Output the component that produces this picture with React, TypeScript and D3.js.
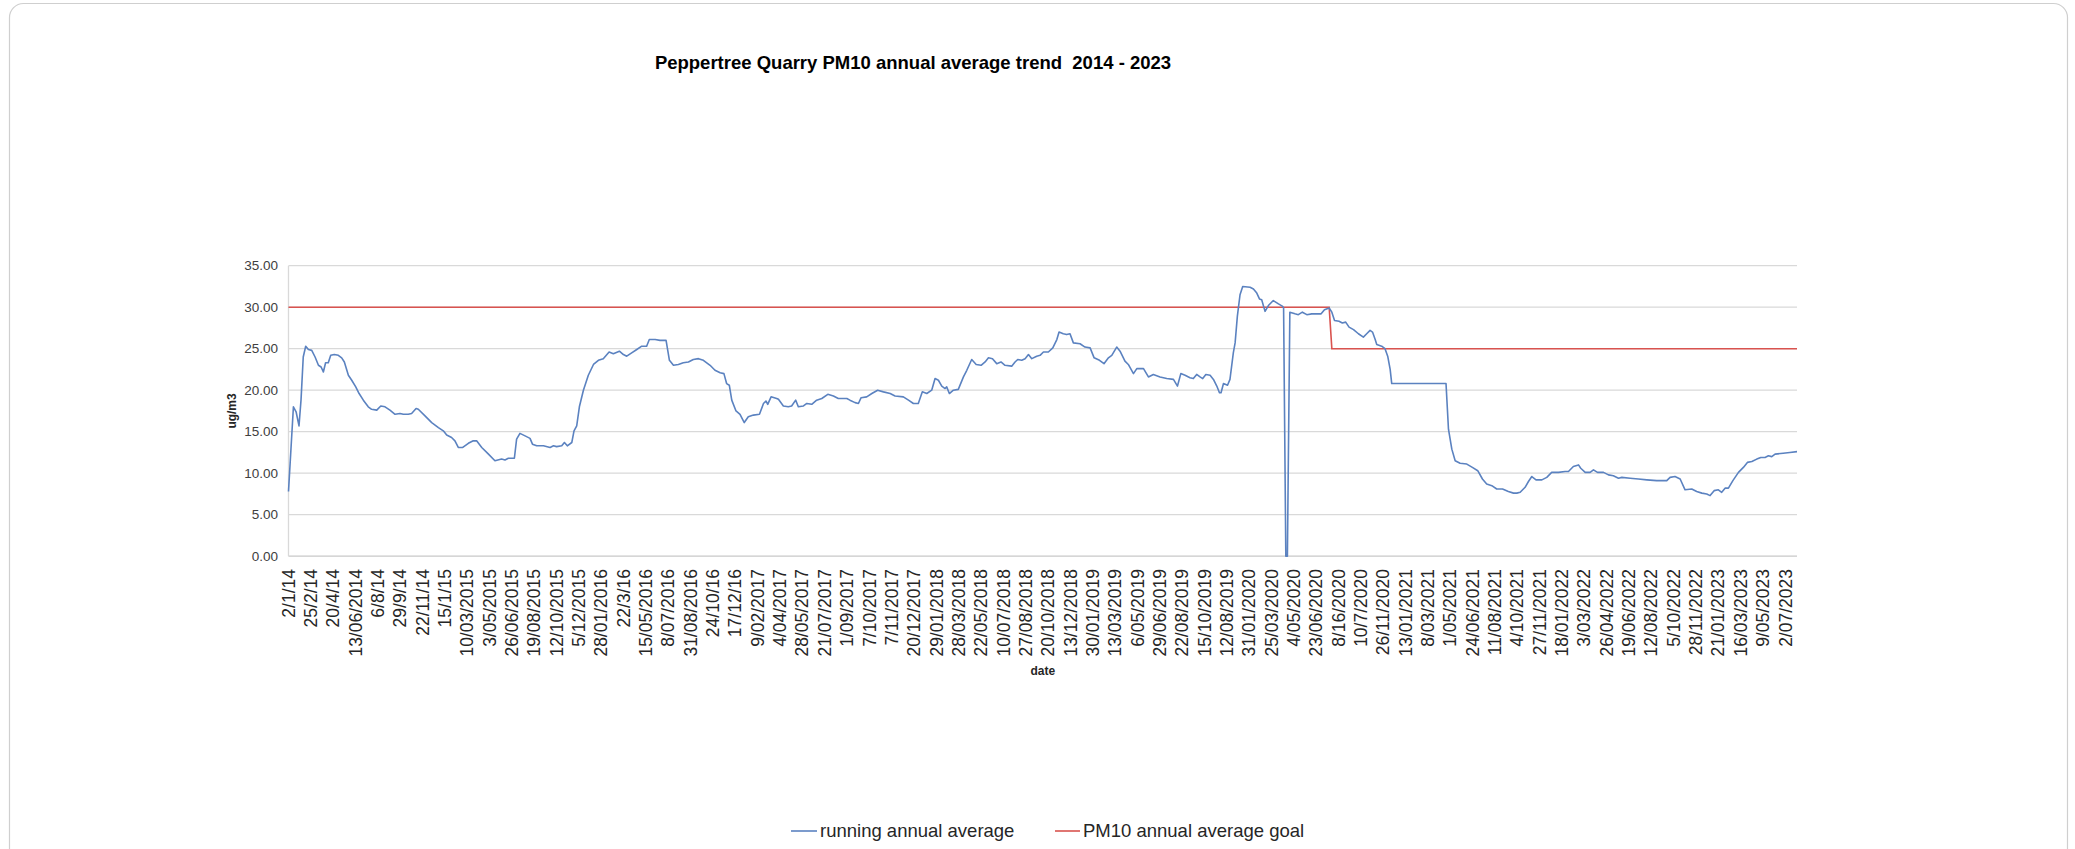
import React from "react";
import * as d3 from "d3";

const title = "Peppertree Quarry PM10 annual average trend  2014 - 2023";
const yAxisTitle = "ug/m3";
const xAxisTitle = "date";
const seriesNames = ["running annual average", "PM10 annual average goal"];
const seriesColors = ["#5b82c0", "#d9534f"];

const dateLabels = [
  "2/1/14", "25/2/14", "20/4/14", "13/06/2014", "6/8/14", "29/9/14", "22/11/14", "15/1/15",
  "10/03/2015", "3/05/2015", "26/06/2015", "19/08/2015", "12/10/2015", "5/12/2015", "28/01/2016",
  "22/3/16", "15/05/2016", "8/07/2016", "31/08/2016", "24/10/16", "17/12/16", "9/02/2017",
  "4/04/2017", "28/05/2017", "21/07/2017", "1/09/2017", "7/10/2017", "7/11/2017", "20/12/2017",
  "29/01/2018", "28/03/2018", "22/05/2018", "10/07/2018", "27/08/2018", "20/10/2018", "13/12/2018",
  "30/01/2019", "13/03/2019", "6/05/2019", "29/06/2019", "22/08/2019", "15/10/2019", "12/08/2019",
  "31/01/2020", "25/03/2020", "4/05/2020", "23/06/2020", "8/16/2020", "10/7/2020", "26/11/2020",
  "13/01/2021", "8/03/2021", "1/05/2021", "24/06/2021", "11/08/2021", "4/10/2021", "27/11/2021",
  "18/01/2022", "3/03/2022", "26/04/2022", "19/06/2022", "12/08/2022", "5/10/2022", "28/11/2022",
  "21/01/2023", "16/03/2023", "9/05/2023", "2/07/2023",
];

// position along the category axis (in label steps), value in ug/m3
const runningAverage: [number, number][] = [
  [0, 7.8], [0.22, 18.0], [0.34, 17.4], [0.47, 15.7], [0.56, 18.8], [0.66, 24.0], [0.77, 25.3], [0.89, 24.9],
  [1.04, 24.8], [1.19, 24.0], [1.34, 23.0], [1.46, 22.8], [1.56, 22.2], [1.66, 23.3], [1.78, 23.3], [1.89, 24.2],
  [2.05, 24.3], [2.23, 24.2], [2.38, 23.9], [2.5, 23.4], [2.68, 21.8], [2.83, 21.2], [3.01, 20.4], [3.16, 19.6],
  [3.35, 18.8], [3.57, 18.0], [3.72, 17.7], [3.95, 17.6], [4.13, 18.1], [4.32, 18.0], [4.54, 17.6], [4.77, 17.1],
  [4.99, 17.2], [5.14, 17.1], [5.36, 17.1], [5.51, 17.2], [5.71, 17.8], [5.81, 17.7], [6.11, 16.9], [6.41, 16.1],
  [6.71, 15.5], [6.93, 15.1], [7.08, 14.6], [7.3, 14.3], [7.45, 13.9], [7.6, 13.1], [7.8, 13.1], [8.05, 13.6],
  [8.27, 13.9], [8.42, 13.9], [8.65, 13.1], [8.95, 12.3], [9.24, 11.5], [9.54, 11.7], [9.69, 11.6], [9.84, 11.8],
  [10.11, 11.8], [10.21, 14.1], [10.36, 14.8], [10.59, 14.5], [10.81, 14.2], [10.92, 13.5],
  [11.11, 13.3], [11.41, 13.3], [11.71, 13.1], [11.86, 13.3], [12.0, 13.2], [12.23, 13.3], [12.35, 13.7],
  [12.48, 13.3], [12.68, 13.7], [12.78, 15.1], [12.9, 15.7], [13.02, 18.0], [13.2, 20.0], [13.42, 21.8],
  [13.65, 23.1], [13.87, 23.6], [14.09, 23.8], [14.35, 24.6], [14.54, 24.4], [14.81, 24.7], [14.99, 24.3],
  [15.14, 24.1], [15.36, 24.5], [15.59, 24.9], [15.81, 25.3], [16.03, 25.3], [16.15, 26.1], [16.41, 26.1],
  [16.63, 26.0], [16.9, 26.0], [17.05, 23.6], [17.23, 23.0], [17.45, 23.1], [17.67, 23.3], [17.9, 23.4],
  [18.12, 23.7], [18.35, 23.8], [18.57, 23.6], [18.87, 23.0], [19.09, 22.4], [19.32, 22.1], [19.49, 22.0],
  [19.61, 20.8], [19.73, 20.6], [19.84, 18.8], [20.03, 17.5], [20.21, 17.1], [20.4, 16.1], [20.58, 16.8],
  [20.81, 17.0], [21.08, 17.1], [21.26, 18.4], [21.37, 18.7], [21.45, 18.3], [21.6, 19.2], [21.85, 19.0],
  [21.93, 18.9], [22.15, 18.1], [22.37, 18.0], [22.52, 18.1], [22.7, 18.8], [22.82, 18.0], [23.05, 18.1],
  [23.2, 18.4], [23.42, 18.3], [23.64, 18.8], [23.87, 19.0], [24.14, 19.5], [24.39, 19.3], [24.61, 19.0],
  [24.99, 19.0], [25.13, 18.8], [25.36, 18.5], [25.51, 18.4], [25.63, 19.1], [25.88, 19.2], [26.11, 19.6],
  [26.37, 20.0], [26.63, 19.8], [26.93, 19.6], [27.15, 19.3], [27.52, 19.2], [27.75, 18.8], [27.97, 18.4],
  [28.19, 18.4], [28.37, 19.8], [28.57, 19.6], [28.79, 20.0], [28.94, 21.4], [29.09, 21.2], [29.24, 20.5],
  [29.39, 20.2], [29.46, 20.4], [29.58, 19.6], [29.76, 20.0], [29.98, 20.1], [30.21, 21.6], [30.36, 22.4],
  [30.58, 23.7], [30.78, 23.1], [31.0, 23.0], [31.18, 23.4], [31.33, 23.9], [31.51, 23.8], [31.7, 23.2],
  [31.89, 23.4], [32.07, 23.0], [32.37, 22.9], [32.52, 23.4], [32.64, 23.7], [32.82, 23.6], [32.97, 23.8],
  [33.12, 24.3], [33.27, 23.8], [33.49, 24.1], [33.64, 24.2], [33.79, 24.6], [34.01, 24.6], [34.21, 25.1],
  [34.39, 26.1], [34.49, 27.0], [34.68, 26.8], [34.83, 26.7], [34.98, 26.8], [35.13, 25.7], [35.43, 25.6],
  [35.65, 25.2], [35.88, 25.1], [36.06, 23.9], [36.3, 23.6], [36.5, 23.2], [36.7, 23.9], [36.85, 24.2],
  [37.07, 25.2], [37.22, 24.7], [37.44, 23.5], [37.59, 23.1], [37.82, 22.0], [37.97, 22.6], [38.27, 22.6],
  [38.49, 21.6], [38.71, 21.9], [39.01, 21.6], [39.31, 21.4], [39.61, 21.3], [39.79, 20.5], [39.94, 22.0],
  [40.13, 21.8], [40.35, 21.5], [40.5, 21.4], [40.65, 21.9], [40.8, 21.6], [40.92, 21.4], [41.06, 21.9],
  [41.25, 21.8], [41.4, 21.3], [41.55, 20.5], [41.67, 19.7], [41.74, 19.7], [41.85, 20.8], [42.03, 20.6],
  [42.14, 21.3], [42.29, 24.5], [42.37, 25.7], [42.47, 28.9], [42.59, 31.5], [42.71, 32.5], [43.04, 32.4],
  [43.19, 32.2], [43.34, 31.7], [43.46, 31.0], [43.56, 30.9], [43.71, 29.5], [43.86, 30.2],
  [44.08, 30.8], [44.31, 30.4], [44.5, 30.1], [44.54, 29.9], [44.64, 0], [44.71, 0], [44.82, 29.4],
  [45.05, 29.2], [45.2, 29.1], [45.38, 29.4], [45.58, 29.1], [45.8, 29.2], [46.22, 29.2], [46.37, 29.7],
  [46.58, 29.9], [46.7, 29.4], [46.82, 28.4], [47.02, 28.3], [47.17, 28.1], [47.32, 28.2], [47.47, 27.6],
  [47.67, 27.3], [47.89, 26.8], [48.11, 26.4], [48.26, 26.8], [48.41, 27.2], [48.52, 27.0], [48.64, 26.1],
  [48.71, 25.5], [48.93, 25.3], [49.08, 25.0], [49.2, 24.1], [49.31, 22.5], [49.38, 20.8], [51.81, 20.8],
  [51.92, 15.3], [52.07, 12.9], [52.22, 11.5], [52.44, 11.2], [52.74, 11.1], [52.99, 10.7], [53.23, 10.3],
  [53.44, 9.3], [53.63, 8.7], [53.86, 8.5], [54.08, 8.1], [54.34, 8.1], [54.6, 7.8], [54.83, 7.6],
  [54.98, 7.6], [55.13, 7.7], [55.35, 8.3], [55.5, 9.0], [55.65, 9.6], [55.84, 9.2], [56.1, 9.2],
  [56.32, 9.5], [56.54, 10.1], [56.84, 10.1], [57.14, 10.2], [57.29, 10.2], [57.51, 10.8], [57.74, 11.0],
  [57.84, 10.6], [58.04, 10.1], [58.26, 10.1], [58.41, 10.4], [58.59, 10.1], [58.86, 10.1], [59.08, 9.8],
  [59.3, 9.7], [59.53, 9.4], [59.68, 9.5], [60.05, 9.4], [60.42, 9.3], [60.8, 9.2], [61.24, 9.1],
  [61.69, 9.1], [61.84, 9.5], [62.06, 9.6], [62.29, 9.3], [62.51, 8.0], [62.81, 8.1], [63.03, 7.8],
  [63.26, 7.6], [63.48, 7.5], [63.63, 7.3], [63.81, 7.9], [64.0, 8.0], [64.15, 7.7], [64.3, 8.2],
  [64.45, 8.2], [64.65, 9.1], [64.9, 10.1], [65.12, 10.7], [65.3, 11.3], [65.5, 11.4], [65.72, 11.7],
  [65.9, 11.9], [66.09, 11.9], [66.24, 12.1], [66.39, 12.0], [66.54, 12.3], [66.9, 12.4], [67.2, 12.5],
  [67.52, 12.6],
];

const goalLine: [number, number][] = [
  [0, 30], [46.58, 30], [46.7, 25], [67.52, 25],
];

const yTicks = [0, 5, 10, 15, 20, 25, 30, 35];

const FONT = "'Liberation Sans', Arial, sans-serif";

export default function App() {
  const W = 2075;
  const H = 849;
  const left = 288.5;
  const right = 1797;
  const top = 265.7;
  const bottom = 556.2;

  const xMax = runningAverage[runningAverage.length - 1][0];
  const x = d3.scaleLinear().domain([0, xMax]).range([left, right]);
  const y = d3.scaleLinear().domain([0, 35]).range([bottom, top]);
  const fmt = d3.format(".2f");

  const line = d3
    .line<[number, number]>()
    .x((d) => x(d[0]))
    .y((d) => y(d[1]));

  return (
    <svg
      width={W}
      height={H}
      style={{ position: "absolute", left: 0, top: 0, background: "#fff" }}
      fontFamily={FONT}
    >
      <rect x={9.5} y={3.5} width={2058} height={900} rx={14} fill="#fff" stroke="#cfcfcf" strokeWidth={1.2} />

      <text
        x={913}
        y={69}
        textAnchor="middle"
        fontSize={18.5}
        fontWeight="bold"
        fill="#000"
        style={{ whiteSpace: "pre" }}
      >
        {title}
      </text>

      {yTicks.map((t) => (
        <line
          key={"g" + t}
          x1={left}
          x2={right}
          y1={y(t)}
          y2={y(t)}
          stroke={t === 0 ? "#c8c8c8" : "#d9d9d9"}
          strokeWidth={1.3}
        />
      ))}
      <line x1={left} x2={left} y1={top} y2={bottom} stroke="#d9d9d9" strokeWidth={1.3} />

      {yTicks.map((t) => (
        <text key={"yl" + t} x={278} y={y(t)} dy="0.35em" textAnchor="end" fontSize={13.5} fill="#404040">
          {fmt(t)}
        </text>
      ))}

      <text
        transform={`translate(236,${(top + bottom) / 2}) rotate(-90)`}
        textAnchor="middle"
        fontSize={12}
        fontWeight="bold"
        fill="#262626"
      >
        {yAxisTitle}
      </text>

      {dateLabels.map((lab, i) => (
        <text
          key={"xl" + i}
          transform={`translate(${x(i)},569) rotate(-90)`}
          dy="0.35em"
          textAnchor="end"
          fontSize={17.5}
          fill="#262626"
        >
          {lab}
        </text>
      ))}

      <text x={(left + right) / 2} y={675} textAnchor="middle" fontSize={12} fontWeight="bold" fill="#262626">
        {xAxisTitle}
      </text>

      <path d={line(goalLine) || ""} fill="none" stroke={seriesColors[1]} strokeWidth={1.6} />
      <path d={line(runningAverage) || ""} fill="none" stroke={seriesColors[0]} strokeWidth={1.6} strokeLinejoin="round" />

      <g>
        <line x1={791} x2={817} y1={831} y2={831} stroke={seriesColors[0]} strokeWidth={1.6} />
        <text x={820} y={831} dy="0.35em" fontSize={18.5} fill="#262626">
          {seriesNames[0]}
        </text>
        <line x1={1055} x2={1080} y1={831} y2={831} stroke={seriesColors[1]} strokeWidth={1.6} />
        <text x={1083} y={831} dy="0.35em" fontSize={18.5} fill="#262626">
          {seriesNames[1]}
        </text>
      </g>
    </svg>
  );
}
